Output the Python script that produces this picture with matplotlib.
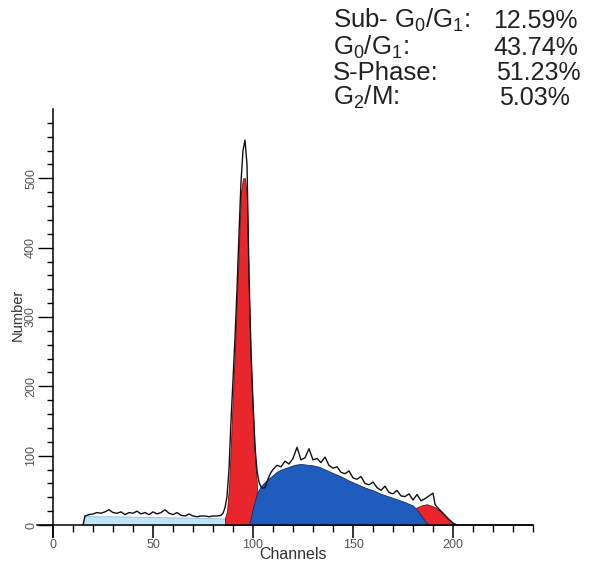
import matplotlib.pyplot as plt
import numpy as np

# total histogram (black trace)
line_ch = [15, 16, 18, 20, 22, 24, 26, 28, 30, 32, 34, 36, 38, 40, 42, 44, 46, 48, 50,
           52, 54, 56, 58, 60, 62, 64, 66, 68, 70, 72, 74, 76, 78, 80, 82, 84,
           85, 86, 87, 88, 89, 90, 91, 92, 93, 94, 95, 96, 97, 98, 99, 100,
           101, 102, 103, 104, 105, 106, 107, 108, 109, 110,
           112, 114, 116, 118, 120, 122, 124, 126, 128, 130, 132, 134, 136, 138, 140,
           142, 144, 146, 148, 150, 152, 154, 156, 158, 160, 162, 164, 166, 168, 170,
           172, 174, 176, 178, 180, 182, 184, 186, 188, 190, 191, 192, 194, 196, 198,
           200, 202, 240]
line_val = [0, 13, 15, 16, 18, 17, 19, 22, 18, 17, 19, 15, 18, 17, 20, 16, 18, 15, 19,
            16, 18, 22, 17, 15, 18, 14, 13, 16, 13, 12, 13, 13, 12, 13, 13, 14,
            17, 25, 41, 80, 150, 209, 270, 340, 420, 495, 540, 555, 520, 360, 250, 175,
            113, 78, 62, 55, 53, 54, 62, 70, 76, 80,
            86, 84, 92, 88, 96, 112, 94, 97, 110, 94, 96, 90, 98, 86, 82,
            84, 76, 74, 78, 68, 66, 70, 60, 58, 62, 54, 50, 56, 47, 45,
            50, 42, 41, 45, 36, 44, 35, 38, 42, 46, 30, 26, 20, 14, 8,
            3, 0, 0]

# debris (sub G0/G1)
debris_ch = [15, 15.5, 17, 20, 30, 40, 50, 60, 70, 80, 88, 94, 100, 106, 110]
debris_val = [0, 12, 13, 12.5, 12.5, 12, 11.5, 11, 10.5, 10, 9, 6, 3, 1, 0]

# G0/G1 peak
g1_ch = [86, 87, 88, 89, 90, 91, 92, 93, 94, 95, 96, 97, 98, 99, 100, 101, 102, 103, 104]
g1_val = [10, 20, 55, 120, 190, 255, 325, 405, 480, 500, 500, 470, 330, 230, 165, 100, 55, 15, 0]

# S-phase
s_ch = [98, 99, 100, 102, 104, 107, 110, 112, 115, 118, 121, 124, 127, 130, 133, 136,
        140, 144, 148, 152, 156, 160, 164, 168, 172, 176, 180, 182, 184, 186, 188]
s_val = [0, 12, 25, 46, 56, 65, 72, 77, 81, 84, 87, 88, 87, 86, 84, 80,
         75, 70, 64, 59, 54, 50, 45, 41, 37, 33, 28, 22, 14, 6, 0]

# G2/M peak
g2_ch = [176, 178, 181, 184, 187, 190, 192, 194, 196, 198, 200, 201]
g2_val = [10, 15, 24, 28, 30, 27, 24, 19, 13, 7, 2, 0]

stats_names = [r"Sub- G$_0$/G$_1$:", r"G$_0$/G$_1$:", "S-Phase:", r"G$_2$/M:"]
stats_values = ["12.59%", "43.74%", "51.23%", "5.03%"]

plt.rcParams['font.family'] = ['Liberation Sans', 'DejaVu Sans']
plt.rcParams['mathtext.fontset'] = 'custom'
plt.rcParams['mathtext.rm'] = 'Liberation Sans'
plt.rcParams['mathtext.it'] = 'Liberation Sans:italic'
plt.rcParams['mathtext.bf'] = 'Liberation Sans:bold'

fig = plt.figure(figsize=(5.93, 5.68), dpi=100)
ax = fig.add_axes([33 / 593, 29.1 / 568, 510 / 593, 436.9 / 568])

red = '#e8262c'
blue = '#1f5cbd'
light = '#bfe3f7'

ax.fill_between(debris_ch, debris_val, color=light, ec='#84bfe0', lw=0.6, zorder=1)
ax.fill_between(g1_ch, g1_val, color=red, ec='#7a1010', lw=0.6, zorder=2)
ax.fill_between(g2_ch, g2_val, color=red, ec='#7a1010', lw=0.6, zorder=2)
ax.fill_between(s_ch, s_val, color=blue, ec='#0d2f70', lw=0.6, zorder=3)
ax.plot(line_ch, line_val, color='#111111', lw=1.0, zorder=4)

ax.set_xlim(-10, 245)
ax.set_ylim(-20, 610)

for side in ['top', 'right']:
    ax.spines[side].set_visible(False)
ax.spines['left'].set_position(('data', 0))
ax.spines['bottom'].set_position(('data', 0))
ax.spines['left'].set_bounds(-17, 600)
ax.spines['bottom'].set_bounds(-8, 240)
ax.spines['left'].set_linewidth(1.1)
ax.spines['bottom'].set_linewidth(1.1)
ax.spines['left'].set_zorder(5)
ax.spines['bottom'].set_zorder(5)

ax.set_xticks([0, 50, 100, 150, 200])
ax.set_xticks(np.arange(10, 250, 10), minor=True)
ax.set_yticks([0, 100, 200, 300, 400, 500])
ax.set_yticks(np.arange(20, 600, 20), minor=True)

ax.tick_params(axis='x', which='major', direction='out', length=9.5, width=1.1,
               labelsize=9, labelcolor='#555555', pad=0.5)
ax.tick_params(axis='x', which='minor', direction='out', length=5, width=1.0)
ax.tick_params(axis='y', which='major', direction='out', length=11, width=1.0,
               labelsize=9, labelcolor='#555555', pad=0.5)
ax.tick_params(axis='y', which='minor', direction='out', length=4.5, width=1.0)
for lab in ax.get_yticklabels():
    lab.set_rotation(90)
    lab.set_va('center')

fig.text(293 / 593, 1 - 559 / 568, "Channels", ha='center', va='baseline',
         fontsize=11.5, color='#333333')
fig.text(18 / 593, 1 - 315 / 568, "Number", ha='center', va='center',
         rotation=90, fontsize=10.5, color='#333333')

# statistics block in the top right corner
baselines = [28, 55, 80, 105]
value_x = [493, 493, 496, 499]
for name, val, yb, xv in zip(stats_names, stats_values, baselines, value_x):
    fig.text(333 / 593, 1 - yb / 568, name, ha='left', va='baseline',
             fontsize=18.5, color='#222222')
    fig.text(xv / 593, 1 - yb / 568, val, ha='left', va='baseline',
             fontsize=18, color='#222222')

fig.savefig("out.png", dpi=100)
plt.close()
